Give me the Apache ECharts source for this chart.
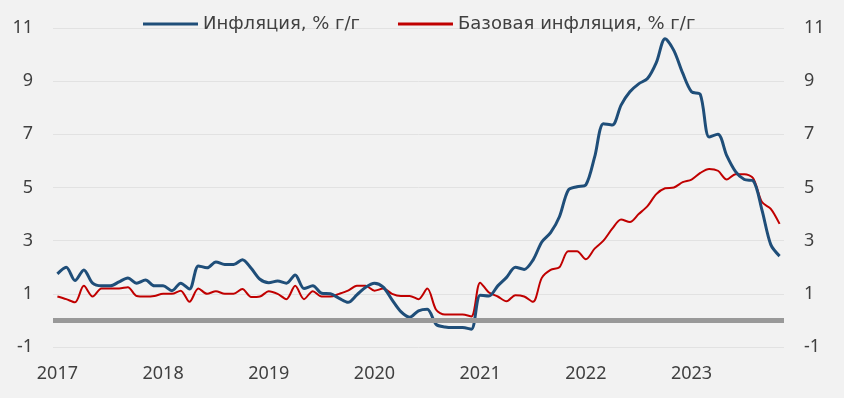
<!DOCTYPE html>
<html>
<head>
<meta charset="utf-8">
<script src="https://cdn.jsdelivr.net/npm/echarts@6/dist/echarts.min.js"></script>
<style>
  html, body { margin: 0; padding: 0; background: #f2f2f2; }
  #chart { width: 844px; height: 398px; }
</style>
</head>
<body>
<div id="chart"></div>
<script>
// годы по оси X (метки ставятся на январь)
var years = ['2017', '2018', '2019', '2020', '2021', '2022', '2023'];
var monthCount = 83; // янв 2017 - ноя 2023

// Инфляция, % г/г
var inflation = [
    1.75, 2.0, 1.5, 1.9, 1.4, 1.3, 1.3, 1.45, 1.6, 1.4, 1.52, 1.3,
    1.3, 1.12, 1.4, 1.18, 2.05, 1.98, 2.2, 2.1, 2.1, 2.28, 1.96, 1.55,
    1.42, 1.48, 1.4, 1.71, 1.2, 1.3, 1.02, 1.0, 0.83, 0.68, 0.96, 1.25,
    1.4, 1.25, 0.77, 0.33, 0.12, 0.36, 0.42, -0.15, -0.25, -0.27, -0.27, -0.33,
    0.95, 0.92, 1.3, 1.62, 2.0, 1.92, 2.27, 2.95, 3.3, 3.9, 4.9, 5.03,
    5.1, 6.15, 7.4, 7.35, 8.1, 8.6, 8.9, 9.1, 9.7, 10.6, 10.15, 9.3,
    8.6, 8.5, 6.9, 7.0, 6.2, 5.6, 5.3, 5.25, 4.15, 2.85, 2.42
];
// Базовая инфляция, % г/г
var coreInflation = [
    0.9, 0.8, 0.68, 1.3, 0.9, 1.2, 1.2, 1.2, 1.25, 0.92, 0.9, 0.92,
    1.0, 1.0, 1.12, 0.7, 1.2, 1.0, 1.1, 1.0, 1.0, 1.18, 0.88, 0.9,
    1.1, 1.0, 0.8, 1.3, 0.8, 1.1, 0.9, 0.9, 1.0, 1.12, 1.3, 1.3,
    1.12, 1.2, 1.0, 0.92, 0.92, 0.8, 1.2, 0.4, 0.22, 0.22, 0.22, 0.15,
    1.42, 1.05, 0.9, 0.72, 0.95, 0.9, 0.7, 1.6, 1.9, 2.0, 2.6, 2.6,
    2.3, 2.7, 3.0, 3.45, 3.8, 3.7, 4.0, 4.3, 4.75, 4.97, 5.0, 5.2,
    5.3, 5.55, 5.7, 5.63, 5.3, 5.5, 5.5, 5.35, 4.45, 4.2, 3.63
];
var seriesNames = ['Инфляция, % г/г', 'Базовая инфляция, % г/г'];

// категории: по месяцу на точку
var categories = [];
for (var i = 0; i < monthCount; i++) {
    categories.push(years[Math.floor(i / 12)] + '-' + (i % 12 + 1));
}

var font = 'Noto Sans';
var textColor = '#404040';

var myChart = echarts.init(document.getElementById('chart'));
var yAxisCommon = {
    type: 'value',
    min: -1,
    max: 11,
    interval: 2,
    axisLine: { show: false },
    axisTick: { show: false },
    axisLabel: { color: textColor, fontSize: 18, fontFamily: font, margin: 20 },
    splitLine: { lineStyle: { color: '#e2e2e2', width: 1 } }
};
var option = {
    backgroundColor: '#f2f2f2',
    animation: false,
    legend: {
        left: 138,
        top: 10,
        itemWidth: 55,
        itemHeight: 3,
        itemGap: 38,
        textStyle: { color: textColor, fontSize: 18, fontFamily: 'DejaVu Sans' },
        data: [
            { name: seriesNames[0], icon: 'rect' },
            { name: seriesNames[1], icon: 'rect' }
        ]
    },
    grid: { left: 53, right: 60, top: 28, bottom: 51 },
    xAxis: {
        type: 'category',
        data: categories,
        boundaryGap: true,
        axisLine: { show: false },
        axisTick: { show: false },
        axisLabel: {
            interval: 11,
            color: textColor,
            fontSize: 18,
            fontFamily: font,
            margin: 18,
            formatter: function (v) { return v.split('-')[0]; }
        }
    },
    yAxis: [
        yAxisCommon,
        Object.assign({}, yAxisCommon, { position: 'right', splitLine: { show: false } })
    ],
    series: [
        {
            name: 'zero',
            type: 'line',
            data: [],
            z: 1,
            silent: true,
            markLine: {
                silent: true,
                symbol: 'none',
                label: { show: false },
                lineStyle: { color: '#999999', width: 5, type: 'solid' },
                data: [{ yAxis: 0 }]
            }
        },
        {
            name: seriesNames[1],
            type: 'line',
            data: coreInflation,
            smooth: 0.3,
            showSymbol: false,
            symbol: 'none',
            z: 3,
            lineStyle: { color: '#c00000', width: 2 },
            itemStyle: { color: '#c00000' }
        },
        {
            name: seriesNames[0],
            type: 'line',
            data: inflation,
            smooth: 0.3,
            showSymbol: false,
            symbol: 'none',
            z: 4,
            lineStyle: { color: '#1f4e79', width: 3 },
            itemStyle: { color: '#1f4e79' }
        }
    ]
};
myChart.setOption(option);
</script>
</body>
</html>
